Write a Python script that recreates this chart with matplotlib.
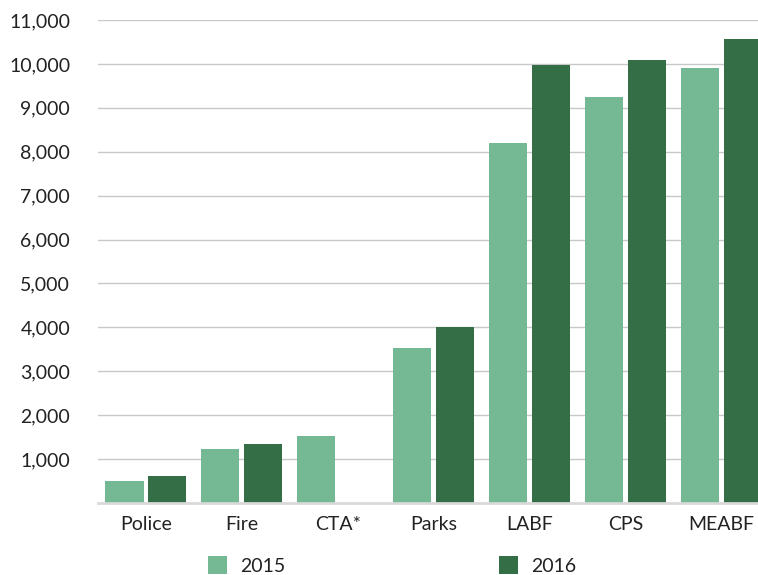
import matplotlib.pyplot as plt
import numpy as np

plt.rcParams['font.family'] = ['Lato', 'DejaVu Sans']

categories = ['Police', 'Fire', 'CTA*', 'Parks', 'LABF', 'CPS', 'MEABF']
values_2015 = [500, 1230, 1525, 3530, 8200, 9250, 9910]
values_2016 = [615, 1345, np.nan, 4010, 9980, 10090, 10570]
y_ticks = list(range(1000, 11001, 1000))

light = '#74b894'
dark = '#336e46'
text_color = '#222222'

fig = plt.figure(figsize=(7.58, 5.75), dpi=100)
ax = fig.add_axes([98 / 758, 1 - 503 / 575, 671.5 / 758, 483 / 575])

x = np.arange(len(categories))
width = 0.397
off = 0.224
ax.bar(x - off, values_2015, width, color=light, label='2015', zorder=3)
ax.bar(x + off, values_2016, width, color=dark, label='2016', zorder=3)

ax.set_xlim(-0.5, 6.5)
ax.set_ylim(0, 11000)
ax.set_yticks(y_ticks)
ax.set_yticklabels([f'{v:,}' for v in y_ticks])
ax.set_xticks(x)
ax.set_xticklabels(categories)
ax.tick_params(axis='y', length=0, pad=20, labelsize=14, labelcolor=text_color)
ax.tick_params(axis='x', length=0, pad=9, labelsize=14, labelcolor=text_color)

ax.grid(axis='y', color='#c8c8c8', linewidth=1, zorder=0)
for s in ['top', 'right', 'left']:
    ax.spines[s].set_visible(False)
ax.spines['bottom'].set_color('#d9d9d9')
ax.spines['bottom'].set_linewidth(2)
ax.spines['bottom'].set_zorder(4)

leg = fig.legend(loc='center left', bbox_to_anchor=(208 / 758, 1 - 565.5 / 575), ncol=2,
                 frameon=False, fontsize=14, handlelength=0.98, handleheight=0.98,
                 handletextpad=0.67, columnspacing=11.0, borderpad=0, borderaxespad=0)
for t in leg.get_texts():
    t.set_color(text_color)

fig.savefig('out.png', dpi=100)
